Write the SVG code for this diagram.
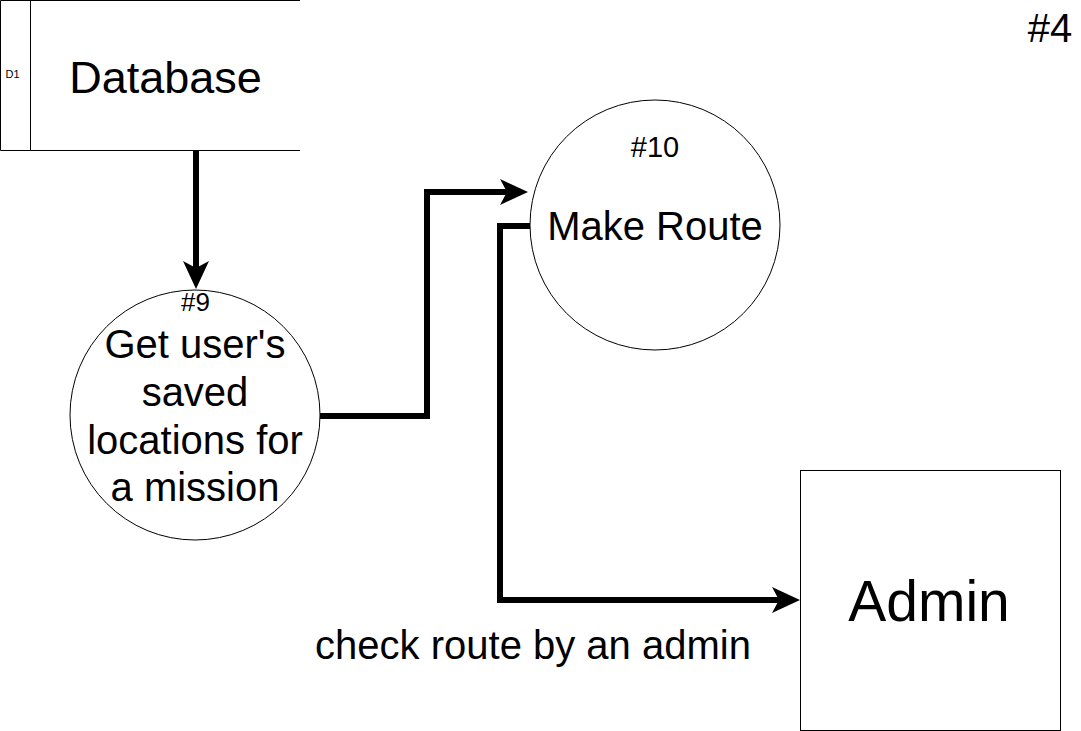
<svg xmlns="http://www.w3.org/2000/svg" width="1081" height="731" viewBox="0 0 1081 731">
  <style>
    text { font-family: "Liberation Sans", Arial, sans-serif; fill: #000; text-anchor: middle; }
    .shape { fill: #fff; stroke: #000; stroke-width: 1; }
    .line { fill: none; stroke: #000; stroke-width: 1; }
    .flow { fill: none; stroke: #000; stroke-width: 6; stroke-linejoin: miter; }
    .head { fill: #000; stroke: none; }
  </style>
  <rect width="1081" height="731" fill="#fff"/>

  <g id="database">
    <rect x="0" y="0" width="300" height="150" fill="#fff"/>
    <path class="line" d="M300 0.5 H0.5 V150.5 H300 M30.5 0.5 V150.5"/>
    <text x="12.5" y="78" font-size="11">D1</text>
    <text x="165.5" y="93" font-size="45">Database</text>
  </g>

  <g id="p9">
    <circle class="shape" cx="195" cy="415" r="125"/>
    <text x="195.5" y="311" font-size="26">#9</text>
    <text x="195" y="358" font-size="40">Get user's</text>
    <text x="195" y="406" font-size="40">saved</text>
    <text x="195" y="454" font-size="40">locations for</text>
    <text x="195" y="501" font-size="40">a mission</text>
  </g>

  <g id="p10">
    <circle class="shape" cx="655" cy="225" r="125"/>
    <text x="655" y="157" font-size="29">#10</text>
    <text x="655" y="240" font-size="40">Make Route</text>
  </g>

  <g id="admin">
    <rect class="shape" x="800.5" y="470.5" width="260" height="260"/>
    <text x="929" y="621" font-size="57">Admin</text>
  </g>

  <g id="page-number">
    <text x="1050" y="42" font-size="40">#4</text>
  </g>

  <g id="connectors">
    <path class="flow" d="M196 150 V268"/>
    <path class="head" d="M196 289 L183 261 L196 268 L209 261 Z"/>

    <path class="flow" d="M320 416 H427 V192 H507"/>
    <path class="head" d="M528 192 L500 179 L507 192 L500 205 Z"/>

    <path class="flow" d="M530 226 H500 V600 H779"/>
    <path class="head" d="M800 600 L772 587 L779 600 L772 613 Z"/>

    <text x="533" y="659" font-size="40">check route by an admin</text>
  </g>
</svg>
